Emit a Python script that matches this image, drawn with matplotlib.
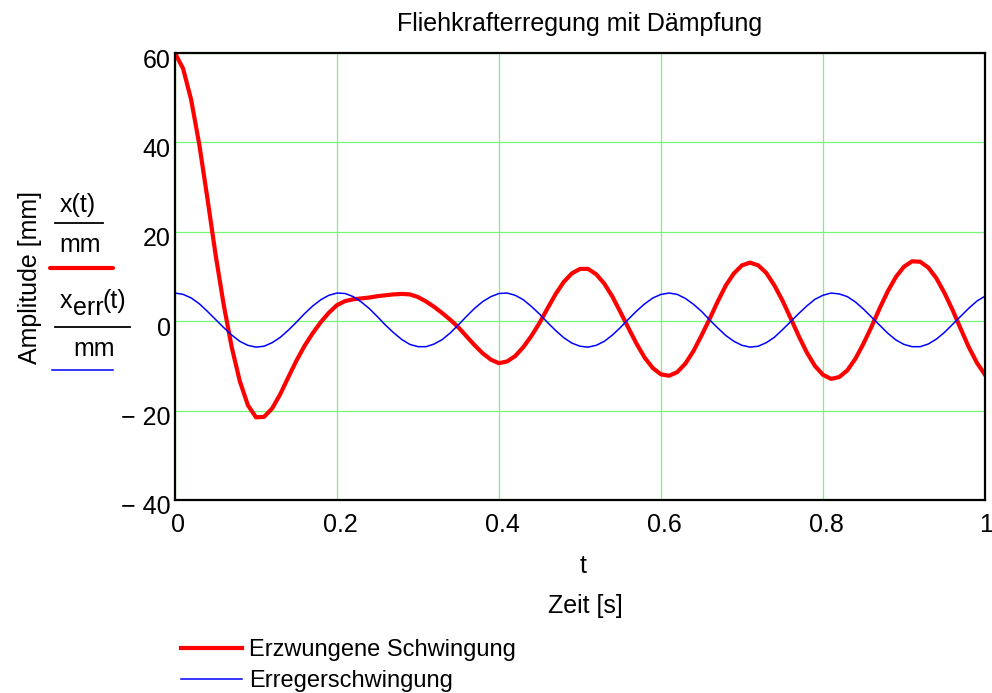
import matplotlib
matplotlib.use("Agg")
import matplotlib.pyplot as plt
import matplotlib.transforms as mtransforms
from matplotlib.lines import Line2D
import numpy as np

plt.rcParams['font.family'] = ['Liberation Sans', 'DejaVu Sans']

# ---- data ----
t_values = [i / 100 for i in range(101)]

x_forced = [
    60.0, 56.5, 49.5, 39.5, 27.5, 15.0, 3.8, -5.8, -13.4, -18.8,
    -21.5, -21.4, -19.5, -16.3, -12.5, -8.8, -5.5, -2.7, -0.2, 1.9,
    3.6, 4.5, 4.9, 5.1, 5.3, 5.6, 5.8, 6.0, 6.1, 6.0,
    5.4, 4.4, 3.2, 1.8, 0.3, -1.4, -3.4, -5.4, -7.2, -8.6,
    -9.4, -9.0, -7.8, -5.8, -3.3, -0.4, 2.9, 6.1, 8.8, 10.7,
    11.7, 11.7, 10.5, 8.4, 5.5, 2.0, -1.6, -5.1, -8.2, -10.5,
    -11.9, -12.2, -11.4, -9.5, -6.7, -3.2, 0.5, 4.4, 8.0, 10.7,
    12.5, 13.1, 12.5, 10.8, 8.0, 4.6, 0.7, -3.3, -7.0, -10.0,
    -12.0, -12.9, -12.5, -11.0, -8.4, -5.0, -1.2, 2.9, 6.7, 9.9,
    12.2, 13.4, 13.3, 12.0, 9.6, 6.3, 2.5, -1.7, -5.8, -9.3,
    -12.0,
]

x_exciter = [
    6.3, 6.0, 5.2, 3.9, 2.2, 0.4, -1.4, -3.1, -4.5, -5.4,
    -5.8, -5.6, -4.8, -3.6, -2.0, -0.2, 1.7, 3.4, 4.8, 5.8,
    6.3, 6.2, 5.5, 4.3, 2.8, 1.0, -0.9, -2.6, -4.1, -5.2,
    -5.7, -5.7, -5.1, -4.1, -2.6, -0.8, 1.1, 2.9, 4.4, 5.5,
    6.2, 6.3, 5.8, 4.8, 3.3, 1.6, -0.3, -2.1, -3.7, -4.9,
    -5.6, -5.8, -5.4, -4.5, -3.1, -1.4, 0.5, 2.3, 3.9, 5.2,
    6.0, 6.3, 6.0, 5.1, 3.8, 2.2, 0.3, -1.5, -3.2, -4.5,
    -5.4, -5.8, -5.6, -4.8, -3.6, -1.9, -0.1, 1.7, 3.4, 4.9,
    5.8, 6.3, 6.1, 5.5, 4.3, 2.7, 0.9, -0.9, -2.7, -4.2,
    -5.2, -5.7, -5.7, -5.1, -4.0, -2.5, -0.7, 1.1, 2.9, 4.5,
    5.6,
]

x_ticks = [0, 0.2, 0.4, 0.6, 0.8, 1.0]
x_ticklabels = ['0', '0.2', '0.4', '0.6', '0.8', '1']
y_ticks = [-40, -20, 0, 20, 40, 60]
y_ticklabels = ['\u2212 40', '\u2212 20', '0', '20', '40', '60']

title = 'Fliehkrafterregung mit Dämpfung'
series_labels = ['Erzwungene Schwingung', 'Erregerschwingung']

RED = '#ff0000'
BLUE = '#0000ff'
GREEN = '#77f777'
FS = 18

W, H = 992, 693
fig = plt.figure(figsize=(W / 100, H / 100), dpi=100)

def fx(px):
    return px / W

def fy(py):
    return 1 - py / H

ax = fig.add_axes([fx(175), fy(500), fx(985) - fx(175), fy(53) - fy(500)])
ax.set_xlim(0, 1)
ax.set_ylim(-40, 60)

ax.plot(t_values, x_forced, color=RED, lw=3.0, zorder=3)
ax.plot(t_values, x_exciter, color=BLUE, lw=1.1, zorder=3)

ax.set_xticks(x_ticks)
ax.set_xticklabels(x_ticklabels)
ax.set_yticks(y_ticks)
ax.set_yticklabels(y_ticklabels)
ax.tick_params(axis='both', length=0, labelsize=FS)
ax.tick_params(axis='x', pad=9)
ax.tick_params(axis='y', pad=3)
ax.grid(True, color=GREEN, lw=0.9, zorder=1)
for s in ax.spines.values():
    s.set_linewidth(1.6)
    s.set_color('black')
    s.set_zorder(4)

xlabs = ax.get_xticklabels()
for i, lab in enumerate(xlabs):
    dx = 3 if i < len(xlabs) - 1 else 1
    lab.set_transform(lab.get_transform() +
                      mtransforms.ScaledTranslation(dx / 100, 0, fig.dpi_scale_trans))
off_y = mtransforms.ScaledTranslation(0, -5 / 100, fig.dpi_scale_trans)
for lab in ax.get_yticklabels():
    lab.set_transform(lab.get_transform() + off_y)

# title and axis labels
fig.text(fx(580), fy(24), title, ha='center', va='center', fontsize=FS)
fig.text(fx(583), fy(566), 't', ha='center', va='center', fontsize=FS)
fig.text(fx(585), fy(606), 'Zeit [s]', ha='center', va='center', fontsize=FS)
fig.text(fx(30), fy(277), 'Amplitude [mm]', ha='center', va='center',
         rotation=90, fontsize=FS)

# Mathcad-style y-axis expression labels
fig.text(fx(78), fy(212), 'x(t)', ha='center', va='baseline', fontsize=FS)
fig.add_artist(Line2D([fx(55), fx(103)], [fy(223), fy(223)], color='black', lw=1.3))
fig.text(fx(80), fy(252), 'mm', ha='center', va='baseline', fontsize=FS)
fig.add_artist(Line2D([fx(50), fx(113)], [fy(268), fy(268)], color=RED, lw=3.0,
                      solid_capstyle='round'))

fig.text(fx(60), fy(308), 'x', ha='left', va='baseline', fontsize=FS)
fig.text(fx(72.5), fy(315), 'err', ha='left', va='baseline', fontsize=FS)
fig.text(fx(102), fy(308), '(t)', ha='left', va='baseline', fontsize=FS)
fig.add_artist(Line2D([fx(55), fx(130)], [fy(327), fy(327)], color='black', lw=1.3))
fig.text(fx(94), fy(356), 'mm', ha='center', va='baseline', fontsize=FS)
fig.add_artist(Line2D([fx(52), fx(113)], [fy(370), fy(370)], color=BLUE, lw=1.1))

# bottom legend
handles = [Line2D([], [], color=RED, lw=3.0), Line2D([], [], color=BLUE, lw=1.1)]
fig.legend(handles, series_labels, loc='upper left',
           bbox_to_anchor=(fx(181), fy(639)), frameon=False, fontsize=17,
           handlelength=2.6, handletextpad=0.3, labelspacing=0.4,
           borderpad=0, borderaxespad=0)

fig.savefig('out.png', dpi=100)
